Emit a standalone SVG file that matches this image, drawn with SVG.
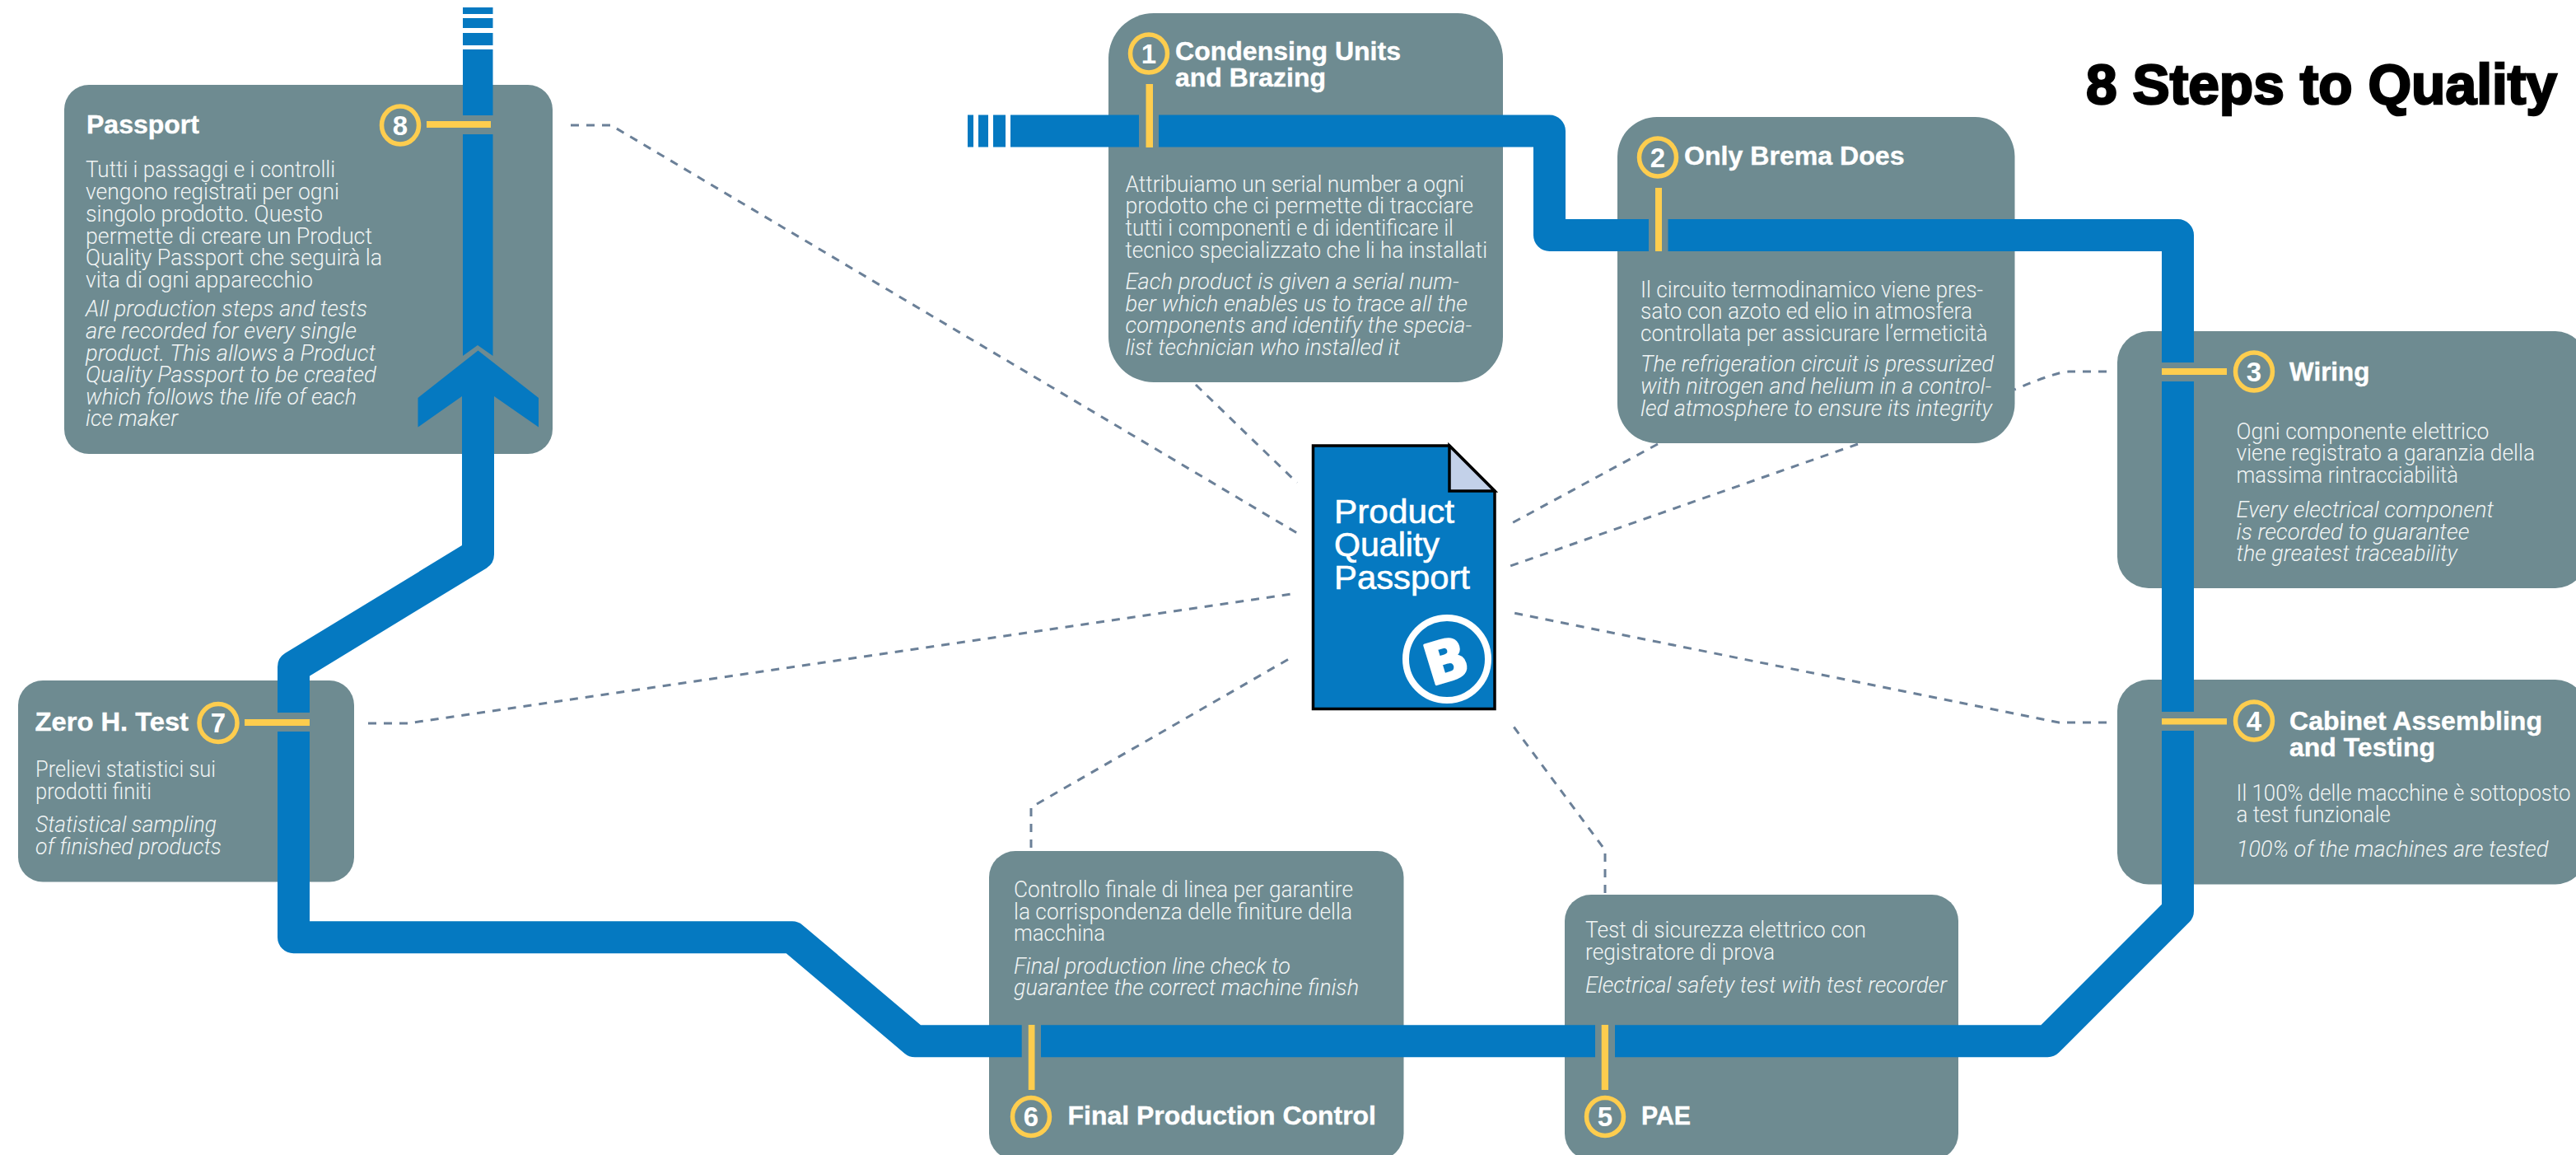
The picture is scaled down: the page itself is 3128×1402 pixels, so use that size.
<svg xmlns="http://www.w3.org/2000/svg" width="3128" height="1402" viewBox="0 0 3128 1402">
<style>
text{font-family:"Liberation Sans",Arial,sans-serif}
.box{fill:#6e8b91}
.h{font-weight:700;font-size:32px;fill:#fff;stroke:#fff;stroke-width:.4}
.b{font-family:Roboto,"Liberation Sans",sans-serif;font-weight:300;font-size:26.800px;fill:#f0f4f4}
.i{font-family:Roboto,"Liberation Sans",sans-serif;font-weight:300;font-style:italic;font-size:26.800px;fill:#f0f4f4}
.c{fill:none;stroke:#fecd4e;stroke-width:5.500}
.n{font-weight:700;font-size:33px;fill:#fff;text-anchor:middle}
.y{fill:#fecd4e}
.p{fill:none;stroke:#0579c1;stroke-width:39;stroke-linejoin:round}
.pf{fill:#0579c1}
.d{fill:none;stroke:#6b8098;stroke-width:3;stroke-dasharray:10 9}
.doc{font-size:41px;fill:#fff;stroke:#fff;stroke-width:.6}
</style>
<rect width="3128" height="1402" fill="#fff"/>
<text id="title" x="2533" y="126" font-size="68" font-weight="700" stroke="#000" stroke-width="2.500" textLength="572" lengthAdjust="spacingAndGlyphs">8 Steps to Quality</text>

<g id="node-8">
<rect class="box" x="78" y="103" width="593" height="448" rx="30"/>
<text class="h" x="105" y="161.500">Passport</text>
<ellipse class="c" cx="486" cy="152" rx="22.500" ry="23"/><text class="n" x="486" y="163.500">8</text>
<rect class="y" x="518" y="147" width="78" height="8"/>
<text class="b" x="104" y="215" textLength="303" lengthAdjust="spacingAndGlyphs">Tutti i passaggi e i controlli</text>
<text class="b" x="104" y="242" textLength="308" lengthAdjust="spacingAndGlyphs">vengono registrati per ogni</text>
<text class="b" x="104" y="268.500" textLength="288" lengthAdjust="spacingAndGlyphs">singolo prodotto. Questo</text>
<text class="b" x="104" y="295.500" textLength="348" lengthAdjust="spacingAndGlyphs">permette di creare un Product</text>
<text class="b" x="104" y="322" textLength="360" lengthAdjust="spacingAndGlyphs">Quality Passport che seguirà la</text>
<text class="b" x="104" y="349" textLength="276" lengthAdjust="spacingAndGlyphs">vita di ogni apparecchio</text>
<text class="i" x="104" y="384" textLength="342" lengthAdjust="spacingAndGlyphs">All production steps and tests</text>
<text class="i" x="104" y="411" textLength="329" lengthAdjust="spacingAndGlyphs">are recorded for every single</text>
<text class="i" x="104" y="437.500" textLength="352" lengthAdjust="spacingAndGlyphs">product. This allows a Product</text>
<text class="i" x="104" y="464" textLength="353" lengthAdjust="spacingAndGlyphs">Quality Passport to be created</text>
<text class="i" x="104" y="490.500" textLength="329" lengthAdjust="spacingAndGlyphs">which follows the life of each</text>
<text class="i" x="104" y="517" textLength="112" lengthAdjust="spacingAndGlyphs">ice maker</text>
</g>

<g id="node-1">
<rect class="box" x="1346" y="16" width="479" height="448" rx="55"/>
<ellipse class="c" cx="1395" cy="65" rx="22.500" ry="23"/><text class="n" x="1395" y="76.500">1</text>
<text class="h" x="1427" y="73" textLength="274" lengthAdjust="spacingAndGlyphs">Condensing Units</text>
<text class="h" x="1427" y="105" textLength="183" lengthAdjust="spacingAndGlyphs">and Brazing</text>
<rect class="y" x="1391.500" y="102" width="8.500" height="77"/>
<text class="b" x="1366.500" y="232.500" textLength="411.500" lengthAdjust="spacingAndGlyphs">Attribuiamo un serial number a ogni</text>
<text class="b" x="1366.500" y="259" textLength="422.500" lengthAdjust="spacingAndGlyphs">prodotto che ci permette di tracciare</text>
<text class="b" x="1366.500" y="286" textLength="398.500" lengthAdjust="spacingAndGlyphs">tutti i componenti e di identificare il</text>
<text class="b" x="1366.500" y="312.500" textLength="439.500" lengthAdjust="spacingAndGlyphs">tecnico specializzato che li ha installati</text>
<text class="i" x="1366.500" y="350.500" textLength="405" lengthAdjust="spacingAndGlyphs">Each product is given a serial num-</text>
<text class="i" x="1366.500" y="377.500" textLength="415.500" lengthAdjust="spacingAndGlyphs">ber which enables us to trace all the</text>
<text class="i" x="1366.500" y="404" textLength="420.500" lengthAdjust="spacingAndGlyphs">components and identify the specia-</text>
<text class="i" x="1366.500" y="430.500" textLength="333.500" lengthAdjust="spacingAndGlyphs">list technician who installed it</text>
</g>

<g id="node-2">
<rect class="box" x="1964" y="142" width="482.500" height="396" rx="48"/>
<ellipse class="c" cx="2013" cy="191" rx="22.500" ry="23"/><text class="n" x="2013" y="202.500">2</text>
<text class="h" x="2045" y="200" textLength="267.500" lengthAdjust="spacingAndGlyphs">Only Brema Does</text>
<rect class="y" x="2010" y="228" width="8" height="77"/>
<text class="b" x="1992" y="360.500" textLength="416" lengthAdjust="spacingAndGlyphs">Il circuito termodinamico viene pres-</text>
<text class="b" x="1992" y="387" textLength="403" lengthAdjust="spacingAndGlyphs">sato con azoto ed elio in atmosfera</text>
<text class="b" x="1992" y="413.500" textLength="421.500" lengthAdjust="spacingAndGlyphs">controllata per assicurare l’ermeticità</text>
<text class="i" x="1992" y="450.500" textLength="429" lengthAdjust="spacingAndGlyphs">The refrigeration circuit is pressurized</text>
<text class="i" x="1992" y="477.500" textLength="426" lengthAdjust="spacingAndGlyphs">with nitrogen and helium in a control-</text>
<text class="i" x="1992" y="504.500" textLength="427" lengthAdjust="spacingAndGlyphs">led atmosphere to ensure its integrity</text>
</g>

<g id="node-3">
<rect class="box" x="2571" y="402" width="570" height="312" rx="38"/>
<ellipse class="c" cx="2737" cy="451" rx="22.500" ry="23"/><text class="n" x="2737" y="462.500">3</text>
<rect class="y" x="2625" y="447" width="79" height="8"/>
<text class="h" x="2780" y="462" textLength="97.500" lengthAdjust="spacingAndGlyphs">Wiring</text>
<text class="b" x="2715.500" y="532.500" textLength="307" lengthAdjust="spacingAndGlyphs">Ogni componente elettrico</text>
<text class="b" x="2715.500" y="559" textLength="362.500" lengthAdjust="spacingAndGlyphs">viene registrato a garanzia della</text>
<text class="b" x="2715.500" y="585.500" textLength="269.500" lengthAdjust="spacingAndGlyphs">massima rintracciabilità</text>
<text class="i" x="2715.500" y="628" textLength="312.500" lengthAdjust="spacingAndGlyphs">Every electrical component</text>
<text class="i" x="2715.500" y="654.500" textLength="283" lengthAdjust="spacingAndGlyphs">is recorded to guarantee</text>
<text class="i" x="2715.500" y="681" textLength="268.500" lengthAdjust="spacingAndGlyphs">the greatest traceability</text>
</g>

<g id="node-4">
<rect class="box" x="2571" y="825" width="570" height="248.500" rx="38"/>
<ellipse class="c" cx="2737" cy="875" rx="22.500" ry="23"/><text class="n" x="2737" y="886.500">4</text>
<rect class="y" x="2625" y="872" width="79" height="7.500"/>
<text class="h" x="2780" y="886" textLength="307" lengthAdjust="spacingAndGlyphs">Cabinet Assembling</text>
<text class="h" x="2780" y="918" textLength="177" lengthAdjust="spacingAndGlyphs">and Testing</text>
<text class="b" x="2715.500" y="971.500" textLength="406" lengthAdjust="spacingAndGlyphs">Il 100% delle macchine è sottoposto</text>
<text class="b" x="2715.500" y="998" textLength="187.500" lengthAdjust="spacingAndGlyphs">a test funzionale</text>
<text class="i" x="2715.500" y="1040" textLength="379" lengthAdjust="spacingAndGlyphs">100% of the machines are tested</text>
</g>

<g id="node-5">
<rect class="box" x="1900" y="1086" width="478" height="322" rx="32"/>
<rect class="y" x="1944.700" y="1244" width="8.300" height="79"/>
<ellipse class="c" cx="1949" cy="1355.500" rx="22.500" ry="23"/><text class="n" x="1949" y="1367">5</text>
<text class="h" x="1993" y="1365" textLength="60" lengthAdjust="spacingAndGlyphs">PAE</text>
<text class="b" x="1925" y="1138" textLength="341" lengthAdjust="spacingAndGlyphs">Test di sicurezza elettrico con</text>
<text class="b" x="1925" y="1165" textLength="230" lengthAdjust="spacingAndGlyphs">registratore di prova</text>
<text class="i" x="1925" y="1205" textLength="439" lengthAdjust="spacingAndGlyphs">Electrical safety test with test recorder</text>
</g>

<g id="node-6">
<rect class="box" x="1201" y="1033" width="503.500" height="375" rx="32"/>
<rect class="y" x="1248.800" y="1244" width="7.700" height="79"/>
<ellipse class="c" cx="1252" cy="1355.500" rx="22.500" ry="23"/><text class="n" x="1252" y="1367">6</text>
<text class="h" x="1296.500" y="1365" textLength="374.500" lengthAdjust="spacingAndGlyphs">Final Production Control</text>
<text class="b" x="1231" y="1089" textLength="412" lengthAdjust="spacingAndGlyphs">Controllo finale di linea per garantire</text>
<text class="b" x="1231" y="1115.500" textLength="411" lengthAdjust="spacingAndGlyphs">la corrispondenza delle finiture della</text>
<text class="b" x="1231" y="1142" textLength="111" lengthAdjust="spacingAndGlyphs">macchina</text>
<text class="i" x="1231" y="1181.500" textLength="336" lengthAdjust="spacingAndGlyphs">Final production line check to</text>
<text class="i" x="1231" y="1208" textLength="419" lengthAdjust="spacingAndGlyphs">guarantee the correct machine finish</text>
</g>

<g id="node-7">
<rect class="box" x="22" y="826" width="408" height="244.500" rx="30"/>
<text class="h" x="42.500" y="886.500" textLength="186.500" lengthAdjust="spacingAndGlyphs">Zero H. Test</text>
<ellipse class="c" cx="265" cy="877.500" rx="23" ry="23"/><text class="n" x="265" y="889">7</text>
<rect class="y" x="297" y="873" width="79" height="8"/>
<text class="b" x="43" y="943" textLength="219" lengthAdjust="spacingAndGlyphs">Prelievi statistici sui</text>
<text class="b" x="43" y="970" textLength="141" lengthAdjust="spacingAndGlyphs">prodotti finiti</text>
<text class="i" x="43" y="1010" textLength="220" lengthAdjust="spacingAndGlyphs">Statistical sampling</text>
<text class="i" x="43" y="1036.500" textLength="226" lengthAdjust="spacingAndGlyphs">of finished products</text>
</g>

<g id="passport-document">
<path d="M1594.500,541 H1760 L1815,596 V860.500 H1594.500 Z" fill="#0579c1" stroke="#000" stroke-width="3.500"/>
<path d="M1760,541 L1815,596 H1760 Z" fill="#c3d1e9" stroke="#000" stroke-width="3.500"/>
<text class="doc" x="1620" y="634.500" textLength="146" lengthAdjust="spacingAndGlyphs">Product</text>
<text class="doc" x="1620" y="675" textLength="128" lengthAdjust="spacingAndGlyphs">Quality</text>
<text class="doc" x="1620" y="715" textLength="165" lengthAdjust="spacingAndGlyphs">Passport</text>
<circle cx="1757" cy="800" r="50" fill="none" stroke="#fff" stroke-width="8"/>
<text x="0" y="0" transform="translate(1756,802) rotate(-17)" font-size="68" font-weight="700" fill="#fff" stroke="#fff" stroke-width="3" stroke-linejoin="round" text-anchor="middle" dy="24" style="font-family:'DejaVu Sans',sans-serif">B</text>
</g>

<g id="connectors">
<g id="leaders">
<path class="d" d="M693,152 H742 L1575,647"/>
<path class="d" d="M1452,467 L1575,586"/>
<path class="d" d="M2013,539 L1834,636"/>
<path class="d" d="M2558,451 H2512 Q2495,452 2446,473"/>
<path class="d" d="M2256,539 L1834,687"/>
<path class="d" d="M2558,877 H2500 L1833,743"/>
<path class="d" d="M1949,1084 V1032 L1835,878"/>
<path class="d" d="M1252,1029 V980 L1570,797"/>
<path class="d" d="M447,878 H495 L1575,720"/>
</g>
<g id="line">
<path class="pf" d="M562,9h36.500v8h-36.500zM562,22h36.500v12h-36.500zM562,40h36.500v15h-36.500zM562,60h36.500v80h-36.500z"/>
<path class="pf" d="M562,163 H598.500 V432 L580,419 L562,432 Z"/>
<path class="pf" d="M580.500,425.500 L654,483 V518.500 L600,481 V500 H561 V481 L507.500,518.500 V483 Z"/>
<path class="p" d="M580.500,495 V673 L356.500,809.500 V865"/>
<path class="p" d="M356.500,888 V1137.800 H962 L1111,1263.800 H1240.700"/>
<path class="p" d="M1264,1263.800 H1937"/>
<path class="p" d="M1961,1263.800 H2486.400 L2644.500,1105.800 V887"/>
<path class="p" d="M2644.500,864 V463"/>
<path class="p" d="M2644.500,440 V285.500 H2025.500"/>
<path class="p" d="M2002,285.500 H1881.500 V159 H1407"/>
<path class="pf" d="M1227,139.500H1383V178.500H1227zM1206,139.500h15v39h-15zM1188,139.500h12v39h-12zM1175,139.500h7v39h-7z"/>
</g>
</g>
</svg>
